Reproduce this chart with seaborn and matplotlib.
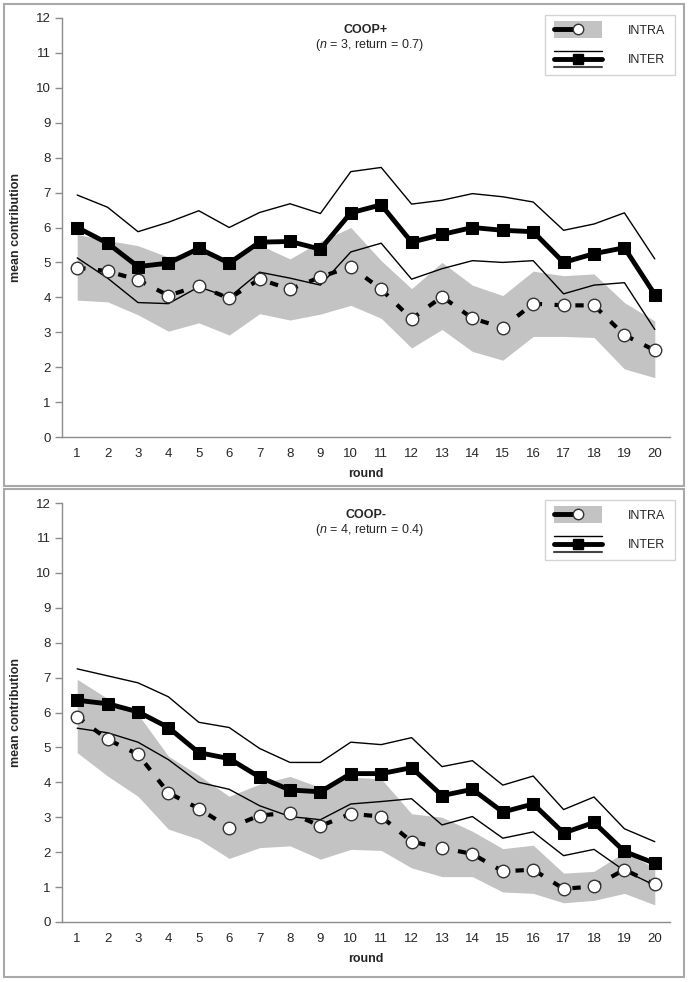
import numpy as np
import pandas as pd
import matplotlib
matplotlib.use("Agg")
import matplotlib.pyplot as plt
import seaborn as sns
from matplotlib.legend_handler import HandlerBase
from matplotlib.lines import Line2D
from matplotlib.patches import Rectangle

# rounds
rounds = list(range(1, 21))

# COOP+ (n = 3, return = 0.7)
coop_plus_inter = [6.0, 5.55, 4.88, 4.98, 5.4, 4.98, 5.58, 5.6, 5.38, 6.42,
                   6.65, 5.58, 5.8, 6.0, 5.92, 5.88, 5.0, 5.25, 5.42, 4.08]
coop_plus_inter_hi = [6.93, 6.58, 5.88, 6.15, 6.48, 6.0, 6.43, 6.68, 6.4, 7.6,
                      7.72, 6.67, 6.78, 6.97, 6.88, 6.73, 5.92, 6.1, 6.42, 5.1]
coop_plus_inter_lo = [5.13, 4.55, 3.85, 3.82, 4.3, 4.0, 4.72, 4.55, 4.35, 5.3,
                      5.55, 4.52, 4.82, 5.05, 5.0, 5.05, 4.1, 4.35, 4.42, 3.08]
coop_plus_intra = [4.85, 4.75, 4.5, 4.05, 4.33, 3.97, 4.52, 4.23, 4.58, 4.88,
                   4.23, 3.38, 4.02, 3.4, 3.13, 3.82, 3.77, 3.77, 2.92, 2.48]
coop_plus_intra_hi = [5.8, 5.63, 5.48, 5.15, 5.35, 5.0, 5.5, 5.1, 5.6, 6.0,
                      5.05, 4.25, 5.0, 4.35, 4.05, 4.75, 4.62, 4.67, 3.85, 3.32]
coop_plus_intra_lo = [3.92, 3.87, 3.5, 3.03, 3.27, 2.92, 3.53, 3.35, 3.52, 3.77,
                      3.4, 2.55, 3.08, 2.45, 2.2, 2.88, 2.88, 2.85, 1.95, 1.7]

# COOP- (n = 4, return = 0.4)
coop_minus_inter = [6.35, 6.25, 6.02, 5.57, 4.85, 4.68, 4.15, 3.78, 3.73, 4.25,
                    4.25, 4.42, 3.62, 3.8, 3.15, 3.38, 2.55, 2.85, 2.02, 1.68]
coop_minus_inter_hi = [7.25, 7.05, 6.85, 6.45, 5.72, 5.57, 4.97, 4.57, 4.57, 5.15,
                       5.08, 5.28, 4.45, 4.62, 3.92, 4.18, 3.22, 3.58, 2.67, 2.3]
coop_minus_inter_lo = [5.55, 5.42, 5.15, 4.65, 4.0, 3.8, 3.33, 3.02, 2.93, 3.38,
                       3.45, 3.53, 2.78, 3.02, 2.4, 2.58, 1.9, 2.08, 1.47, 1.05]
coop_minus_intra = [5.88, 5.23, 4.8, 3.7, 3.25, 2.7, 3.05, 3.13, 2.75, 3.1,
                    3.02, 2.3, 2.12, 1.95, 1.45, 1.5, 0.95, 1.02, 1.5, 1.08]
coop_minus_intra_hi = [6.95, 6.4, 5.95, 4.75, 4.2, 3.6, 3.95, 4.17, 3.85, 4.15,
                       4.1, 3.1, 3.0, 2.6, 2.1, 2.2, 1.4, 1.45, 2.0, 1.55]
coop_minus_intra_lo = [4.85, 4.18, 3.6, 2.66, 2.37, 1.82, 2.13, 2.18, 1.8, 2.08,
                       2.05, 1.55, 1.3, 1.3, 0.86, 0.82, 0.55, 0.62, 0.82, 0.49]

panels = [
    ("COOP+", "3", "0.7", coop_plus_inter, coop_plus_inter_hi, coop_plus_inter_lo,
     coop_plus_intra, coop_plus_intra_hi, coop_plus_intra_lo),
    ("COOP-", "4", "0.4", coop_minus_inter, coop_minus_inter_hi, coop_minus_inter_lo,
     coop_minus_intra, coop_minus_intra_hi, coop_minus_intra_lo),
]

sns.set_style("white")
plt.rcParams['font.family'] = ['Liberation Sans', 'DejaVu Sans']
plt.rcParams['mathtext.fontset'] = 'custom'
plt.rcParams['mathtext.rm'] = 'Liberation Sans'
plt.rcParams['mathtext.it'] = 'Liberation Sans:italic'

BAND = '#c3c3c3'
AXC = '#8c8c8c'


class IntraHandler(HandlerBase):
    def create_artists(self, legend, orig_handle, xdescent, ydescent,
                       width, height, fontsize, trans):
        x0 = -xdescent
        yc = -ydescent + height / 2
        rect = Rectangle((x0, yc - 0.72 * height), width, 1.44 * height,
                         fc=BAND, ec='none', transform=trans)
        ln = Line2D([x0, x0 + 0.45 * width], [yc, yc], color='black',
                    lw=3.5, transform=trans)
        mk = Line2D([x0 + 0.5 * width], [yc], marker='o', ms=7.5, mfc='white',
                    mec='#333333', mew=1, ls='none', transform=trans)
        return [rect, ln, mk]


class InterHandler(HandlerBase):
    def create_artists(self, legend, orig_handle, xdescent, ydescent,
                       width, height, fontsize, trans):
        x0, x1 = -xdescent, -xdescent + width
        yc = -ydescent + height / 2
        top = Line2D([x0, x1], [yc + 0.72 * height] * 2, color='black',
                     lw=1, transform=trans)
        bot = Line2D([x0, x1], [yc - 0.72 * height] * 2, color='#444444',
                     lw=1.5, transform=trans)
        mid = Line2D([x0, x1], [yc, yc], color='black', lw=3.5, transform=trans)
        mk = Line2D([(x0 + x1) / 2], [yc], marker='s', ms=7.5, mfc='black',
                    mec='black', ls='none', transform=trans)
        return [top, bot, mid, mk]


fig = plt.figure(figsize=(6.89, 9.82), dpi=100)

# panel frames
for ytop, ybot in [(4, 486), (489, 977)]:
    fig.add_artist(Rectangle((4 / 689, 1 - ybot / 982), 680 / 689, (ybot - ytop) / 982,
                             transform=fig.transFigure, fill=False, ec='#a8a8a8', lw=1.5))

axes_pos = [[62 / 689, 1 - 437 / 982, 608 / 689, 419 / 982],
            [62 / 689, 1 - 922 / 982, 608 / 689, 419 / 982]]

for pos, (name, n, ret, inter, inter_hi, inter_lo, intra, intra_hi, intra_lo) in zip(axes_pos, panels):
    ax = fig.add_axes(pos)
    df = pd.DataFrame({"round": rounds, "inter": inter, "inter_hi": inter_hi,
                       "inter_lo": inter_lo, "intra": intra, "intra_hi": intra_hi,
                       "intra_lo": intra_lo})

    ax.fill_between(df["round"], df["intra_lo"], df["intra_hi"], color=BAND, lw=0, zorder=1)
    sns.lineplot(data=df, x="round", y="inter_hi", ax=ax, color='black', lw=1, zorder=2)
    sns.lineplot(data=df, x="round", y="inter_lo", ax=ax, color='black', lw=1, zorder=2)
    sns.lineplot(data=df, x="round", y="intra", ax=ax, color='black', lw=3,
                 linestyle=(0, (2, 3)), marker='o', ms=9, mfc='white', mec='#333333',
                 mew=1, zorder=3)
    sns.lineplot(data=df, x="round", y="inter", ax=ax, color='black', lw=3.5,
                 marker='s', ms=9, mfc='black', mec='black', zorder=4)

    ax.set_xlim(0.5, 20.5)
    ax.set_ylim(0, 12)
    ax.set_yticks(range(0, 13))
    ax.set_xticks(rounds)
    ax.set_xticks(np.arange(0.5, 21, 1), minor=True)
    ax.tick_params(axis='x', which='major', length=0, pad=8, labelsize=9.5)
    ax.tick_params(axis='x', which='minor', length=4, direction='inout', color=AXC, width=1)
    ax.tick_params(axis='y', which='major', length=5, direction='out', color=AXC,
                   width=1, labelsize=9.5, pad=3, left=True)
    for s in ['top', 'right']:
        ax.spines[s].set_visible(False)
    for s in ['left', 'bottom']:
        ax.spines[s].set_color(AXC)
        ax.spines[s].set_linewidth(1)

    ax.set_xlabel("round", fontsize=9, fontweight='bold', labelpad=6)
    ax.set_ylabel("mean contribution", fontsize=9, fontweight='bold', labelpad=10)

    ax.text(0.5, 0.971, name, transform=ax.transAxes, ha='center', va='center',
            fontsize=9, fontweight='bold',
            family=['Liberation Sans Narrow', 'Liberation Sans'])
    ax.text(0.505, 0.936, r"($\it{n}$ = " + n + ", return = " + ret + ")",
            transform=ax.transAxes, ha='center', va='center', fontsize=9)

    h1, h2 = Line2D([], []), Line2D([], [], marker='s')
    leg = ax.legend([h1, h2], ["INTRA", "INTER"],
                    handler_map={h1: IntraHandler(), h2: InterHandler()},
                    loc='upper right', bbox_to_anchor=(1.008, 1.008), fontsize=9,
                    frameon=True, fancybox=False, edgecolor='#c8c8c8',
                    handlelength=3.8, handleheight=1.0, handletextpad=2.1,
                    labelspacing=1.3, borderpad=0.74, borderaxespad=0)
    leg.get_frame().set_linewidth(1)

fig.savefig("out.png", dpi=100)
